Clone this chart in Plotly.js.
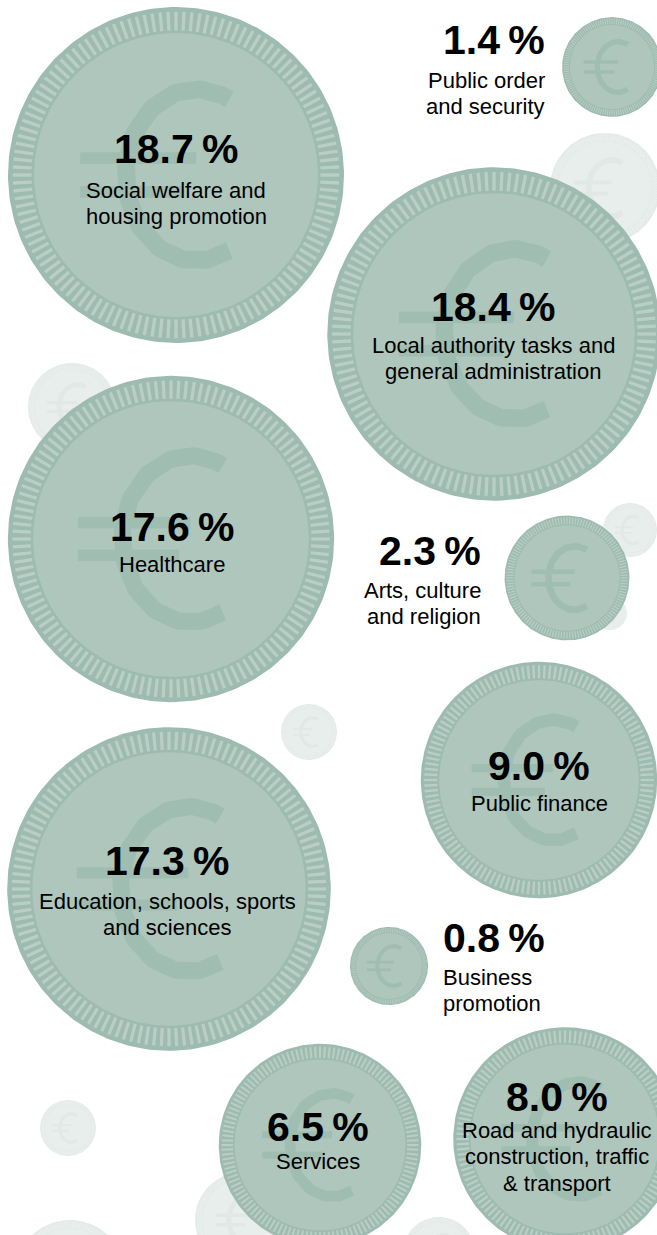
<!DOCTYPE html>
<html><head><meta charset="utf-8">
<script src="https://cdn.plot.ly/plotly-3.0.1.min.js"></script>
<style>html,body{margin:0;padding:0;background:#fff;} #chart{width:657px;height:1235px;}</style>
</head><body><div id="chart"></div>
<script>
// ---- data ----
const categories = [
  "Social welfare and<br>housing promotion",
  "Public order<br>and security",
  "Local authority tasks and<br>general administration",
  "Healthcare",
  "Arts, culture<br>and religion",
  "Public finance",
  "Education, schools, sports<br>and sciences",
  "Business<br>promotion",
  "Services",
  "Road and hydraulic<br>construction, traffic<br>& transport"
];
const shares = [18.7, 1.4, 18.4, 17.6, 2.3, 9.0, 17.3, 0.8, 6.5, 8.0];
const shareLabels = ["18.7\u2009%", "1.4\u2009%", "18.4\u2009%", "17.6\u2009%", "2.3\u2009%", "9.0\u2009%", "17.3\u2009%", "0.8\u2009%", "6.5\u2009%", "8.0\u2009%"];

// ---- layout (positions, in pixel units) ----
const coinX = [176, 612, 494, 171, 567, 539, 169, 389, 320, 565];
const coinY = [175, 67, 334, 539, 578, 780, 889, 966, 1145, 1139];
const labelX = [176, 547, 493, 172, 483, 539, 167, 441, 318, 557];
const pctY = [149, 40, 307, 527, 551, 766, 861, 938, 1127, 1097];
const descY = [190, 80, 345, 564, 590, 803, 901, 977, 1161, 1130];
const lineGap = 26.5;
const labelAlign = ["center", "right", "center", "center", "right", "center", "center", "left", "center", "center"];

// decorative faded coins
const decoX = [605, 72, 309, 630, 610, 68, 243, 70, 439];
const decoY = [188, 407, 732, 530, 613, 1128, 1220, 1275, 1253];
const decoR = [55, 44, 28, 27, 17, 28, 48, 55, 36];

// radius scale (area-like)
const rScale = v => 5.4 + 37.6 * Math.sqrt(v);

const mainPal = {rim: "#9dbbb0", ridge: "#bacec5", face: "#afc6bc", euro: "#a0bdb2"};
const decoPal = {rim: "#e3eae7", ridge: "#ecf1ef", face: "#e8eeeb", euro: "#e1e8e5"};

const traces = [];
function circlePts(cx, cy, r) {
  const xs = [], ys = [];
  const N = 240;
  for (let i = 0; i <= N; i++) {
    const a = 2 * Math.PI * i / N;
    xs.push(cx + r * Math.cos(a));
    ys.push(cy + r * Math.sin(a));
  }
  return {xs, ys};
}
function addCoin(cx, cy, r, pal) {
  const outer = circlePts(cx, cy, r);
  traces.push({type: "scatter", mode: "lines", x: outer.xs, y: outer.ys, fill: "toself",
    fillcolor: pal.rim, line: {width: 0, color: pal.rim}, hoverinfo: "skip", showlegend: false});
  const rx = [], ry = [];
  const M = 128;
  for (let i = 0; i < M; i++) {
    const a = 2 * Math.PI * i / M;
    rx.push(cx + 0.86 * r * Math.cos(a), cx + 0.972 * r * Math.cos(a), null);
    ry.push(cy + 0.86 * r * Math.sin(a), cy + 0.972 * r * Math.sin(a), null);
  }
  traces.push({type: "scatter", mode: "lines", x: rx, y: ry, connectgaps: false,
    line: {width: Math.max(0.6, 0.02 * r), color: pal.ridge}, hoverinfo: "skip", showlegend: false});
  const inner = circlePts(cx, cy, 0.845 * r);
  traces.push({type: "scatter", mode: "lines", x: inner.xs, y: inner.ys, fill: "toself",
    fillcolor: pal.face, line: {width: 0, color: pal.face}, hoverinfo: "skip", showlegend: false});
  // euro sign drawn as strokes
  const ax = [], ay = [];
  for (let d = 62; d <= 298; d += 2) {
    const t = d * Math.PI / 180;
    ax.push(cx + 0.12 * r + 0.42 * r * Math.cos(t));
    ay.push(cy + 0.51 * r * Math.sin(t));
  }
  traces.push({type: "scatter", mode: "lines", x: ax, y: ay,
    line: {width: 0.105 * r, color: pal.euro}, hoverinfo: "skip", showlegend: false});
  traces.push({type: "scatter", mode: "lines",
    x: [cx - 0.57 * r, cx + 0.12 * r, null, cx - 0.57 * r, cx + 0.05 * r],
    y: [cy - 0.10 * r, cy - 0.10 * r, null, cy + 0.10 * r, cy + 0.10 * r],
    connectgaps: false,
    line: {width: 0.07 * r, color: pal.euro}, hoverinfo: "skip", showlegend: false});
}

decoX.forEach((x, i) => addCoin(x, decoY[i], decoR[i], decoPal));
shares.forEach((v, i) => addCoin(coinX[i], coinY[i], rScale(v), mainPal));

const annotations = [];
shares.forEach((v, i) => {
  const xa = labelAlign[i];
  annotations.push({x: labelX[i], y: pctY[i], xref: "x", yref: "y", text: "<b>" + shareLabels[i] + "</b>",
    showarrow: false, xanchor: xa, yanchor: "middle", align: xa,
    font: {family: "Liberation Sans, Arial, sans-serif", size: 41, color: "#000"}});
  categories[i].split("<br>").forEach((line, j) => {
    annotations.push({x: labelX[i], y: descY[i] + j * lineGap, xref: "x", yref: "y", text: line,
      showarrow: false, xanchor: xa, yanchor: "middle", align: xa,
      font: {family: "Liberation Sans, Arial, sans-serif", size: 22, color: "#000"}});
  });
});

const layout = {
  width: 657, height: 1235,
  margin: {l: 0, r: 0, t: 0, b: 0, pad: 0},
  paper_bgcolor: "#ffffff", plot_bgcolor: "#ffffff",
  xaxis: {range: [0, 657], visible: false, fixedrange: true},
  yaxis: {range: [1235, 0], visible: false, fixedrange: true},
  showlegend: false,
  annotations: annotations
};
Plotly.newPlot("chart", traces, layout, {staticPlot: true, displayModeBar: false});
</script>
</body></html>
